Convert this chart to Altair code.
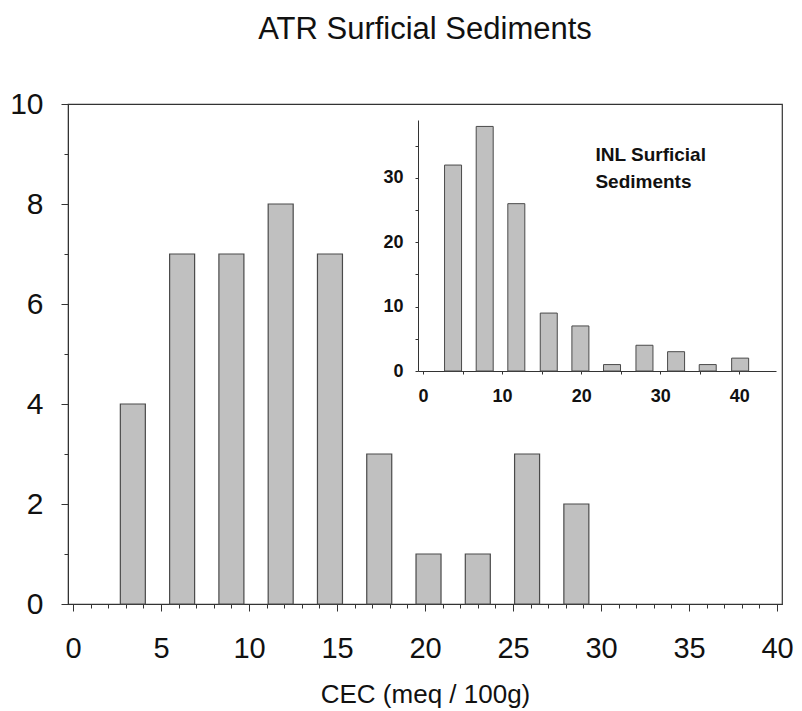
import altair as alt
import pandas as pd

# Main histogram (ATR surficial sediments)
atr_cec = [3.4, 6.2, 9.0, 11.8, 14.6, 17.4, 20.2, 23.0, 25.8, 28.6]
atr_count = [4, 7, 7, 8, 7, 3, 1, 1, 3, 2]

# Inset histogram (INL surficial sediments)
inl_cec = [3.8, 7.8, 11.8, 15.9, 19.9, 23.9, 28.0, 32.0, 36.0, 40.1]
inl_count = [32, 38, 26, 9, 7, 1, 4, 3, 1, 2]

main_x_ticks = list(range(0, 41))
main_y_ticks = list(range(0, 11))
inset_x_ticks = list(range(0, 41, 5))
inset_y_ticks = list(range(0, 36, 5))

inset_label = "INL Surficial\nSediments"

df_main = pd.DataFrame({"cec": atr_cec, "count": atr_count})
df_inl = pd.DataFrame({"cec": inl_cec, "count": inl_count})
df_lbl = pd.DataFrame({"cec": [21.8], "count": [35.0], "t": [inset_label]})

FONT = "Liberation Sans"
W, H = 714, 500

main = alt.Chart(df_main).mark_bar(
    size=25, fill="#c0c0c0", stroke="#4a4a4a", strokeWidth=1.2
).encode(
    x=alt.X("cec:Q", scale=alt.Scale(domain=[0, 40], nice=False, zero=False),
            axis=alt.Axis(values=main_x_ticks, title="CEC (meq / 100g)",
                          labelExpr="datum.value % 5 === 0 ? datum.label : ''",
                          tickSize={"condition": {"test": "datum.value % 5 === 0", "value": 7}, "value": 4},
                          labelFontSize=29, labelPadding=23, titleFontSize=26,
                          titlePadding=18, labelOverlap=False, grid=False,
                          domainColor="#333", tickColor="#333",
                          labelFont=FONT, titleFont=FONT, labelFontWeight="normal",
                          titleFontWeight="normal", labelColor="#111", titleColor="#111",
                          labelFlush=False)),
    y=alt.Y("count:Q", scale=alt.Scale(domain=[0, 10], nice=False),
            axis=alt.Axis(values=main_y_ticks, title=None,
                          labelExpr="datum.value % 2 === 0 ? datum.label : ''",
                          tickSize={"condition": {"test": "datum.value % 2 === 0", "value": 7}, "value": 4},
                          labelFontSize=30, labelPadding=18, labelOverlap=False, grid=False,
                          domainColor="#333", tickColor="#333", labelFont=FONT,
                          labelColor="#111", labelFlush=False)),
)

inset_x = alt.X("cec:Q", scale=alt.Scale(domain=[0, 44], range=[350, 708], nice=False, zero=False),
                axis=alt.Axis(orient="bottom", offset=-233, values=inset_x_ticks, title=None,
                              labelExpr="datum.value % 10 === 0 ? datum.label : ''",
                              tickSize=3, labelFontSize=18, labelFontWeight="bold",
                              labelPadding=13, labelOverlap=False, grid=False,
                              domainColor="#333", tickColor="#333", labelFont=FONT,
                              labelColor="#111", labelFlush=False))
inset_y = alt.Y("count:Q", scale=alt.Scale(domain=[0, 39], range=[267, 16], nice=False),
                axis=alt.Axis(orient="left", offset=-350, values=inset_y_ticks, title=None,
                              labelExpr="datum.value % 10 === 0 ? datum.label : ''",
                              tickSize=3, labelFontSize=18, labelFontWeight="bold",
                              labelPadding=12, labelOverlap=False, grid=False,
                              domainColor="#333", tickColor="#333", labelFont=FONT,
                              labelColor="#111", labelFlush=False))

inset_bars = alt.Chart(df_inl).mark_bar(
    size=17, fill="#c0c0c0", stroke="#4a4a4a", strokeWidth=1
).encode(x=inset_x, y=inset_y)

inset_text = alt.Chart(df_lbl).mark_text(
    align="left", baseline="top", font=FONT, fontWeight="bold", fontSize=19,
    lineBreak="\n", lineHeight=27, color="#111"
).encode(x=inset_x, y=inset_y, text="t:N")

inset = alt.layer(inset_bars, inset_text)

chart = alt.layer(main, inset).resolve_scale(
    x="independent", y="independent"
).properties(
    width=W, height=H,
    title=alt.Title("ATR Surficial Sediments", font=FONT, fontSize=31,
                    fontWeight="normal", color="#111", anchor="middle", offset=43),
    autosize=alt.AutoSizeParams(type="none"),
    padding={"left": 68, "top": 104, "right": 20, "bottom": 107},
).configure_view(stroke="#333", strokeWidth=1.2)

chart.save("out.html", embed_options={"renderer": "svg", "actions": False})
